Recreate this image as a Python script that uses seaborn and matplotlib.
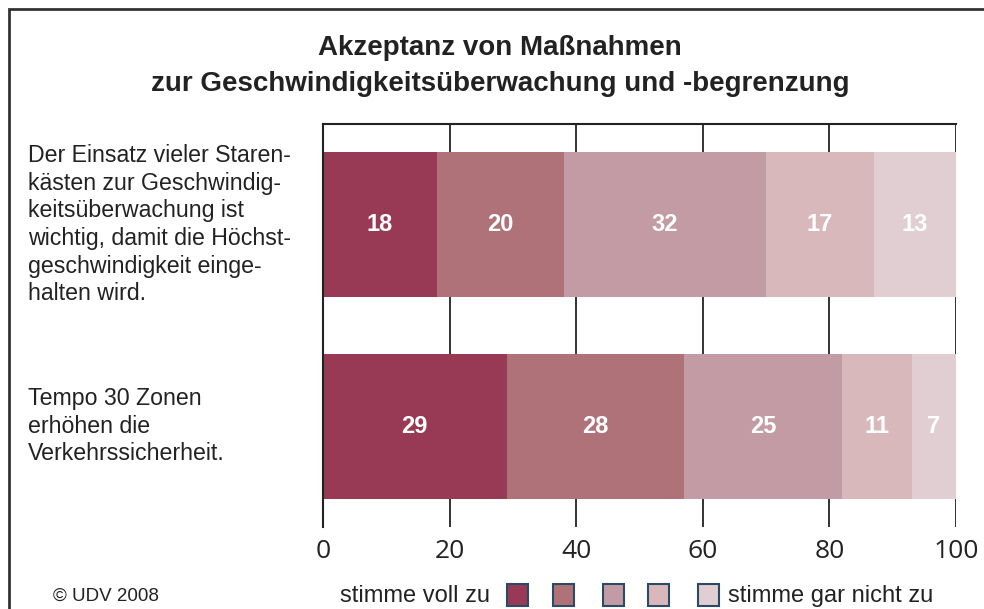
import pandas as pd
import seaborn as sns
import matplotlib.pyplot as plt
from matplotlib.patches import Rectangle
from matplotlib.transforms import blended_transform_factory

# data
fragen = [
    "Der Einsatz vieler Staren-\nkästen zur Geschwindig-\nkeitsüberwachung ist\nwichtig, damit die Höchst-\ngeschwindigkeit einge-\nhalten wird.",
    "Tempo 30 Zonen\nerhöhen die\nVerkehrssicherheit.",
]
stufe1 = [18, 29]
stufe2 = [20, 28]
stufe3 = [32, 25]
stufe4 = [17, 11]
stufe5 = [13, 7]
farben = ["#983a55", "#b07279", "#c39ba4", "#d9b8bc", "#e0ced3"]
ticks = [0, 20, 40, 60, 80, 100]

sns.set_style("white")
plt.rcParams['font.family'] = ['Liberation Sans', 'DejaVu Sans']

fig = plt.figure(figsize=(9.84, 6.09), dpi=100)
ax = fig.add_axes([323 / 984, 1 - 527 / 609, (956 - 323) / 984, (527 - 124) / 609])

stufen = [stufe1, stufe2, stufe3, stufe4, stufe5]
rows = []
for k, werte in enumerate(stufen):
    for i, v in enumerate(werte):
        rows.append({'frage': i, 'stufe': k, 'wert': v})
df = pd.DataFrame(rows)
df['kum'] = df.groupby('frage')['wert'].cumsum()
df['frage'] = df['frage'].astype(str)

# stacked bars: draw the cumulative totals from the largest down
for k in reversed(range(len(stufen))):
    sub = df[df['stufe'] == k]
    sns.barplot(data=sub, x='kum', y='frage', color=farben[k], orient='h',
                width=0.72, saturation=1, ax=ax, zorder=2, linewidth=0,
                edgecolor='none')

for _, r in df.iterrows():
    ax.text(r['kum'] - r['wert'] / 2, int(r['frage']), str(r['wert']),
            ha='center', va='center', color='white', fontsize=17,
            fontweight='bold', zorder=3)

ax.set_xlim(0, 100)
ax.set_ylim(1.5, -0.5)
ax.set_xticks(ticks)
ax.set_xticklabels([str(t) for t in ticks], family=['Open Sans', 'DejaVu Sans'], fontsize=19)
ax.set_yticks([])
ax.set_xlabel('')
ax.set_ylabel('')
ax.grid(axis='x', color='#222222', lw=1.3, zorder=0)
ax.set_axisbelow(True)
ax.tick_params(axis='x', length=0, pad=9, colors='#222222')
for s in ['right', 'bottom']:
    ax.spines[s].set_visible(False)
for s in ['top', 'left']:
    ax.spines[s].set_color('#222222')
    ax.spines[s].set_linewidth(1.5)

# question texts on the left
trans = blended_transform_factory(fig.transFigure, ax.transData)
for i, f in enumerate(fragen):
    ax.text(28 / 984, i, f, transform=trans, ha='left', va='center',
            fontsize=16.7, color='#222222', linespacing=1.25)

fig.text(0.508, 1 - 48 / 609, "Akzeptanz von Maßnahmen", ha='center', va='center',
         fontsize=20, fontweight='bold', color='#222222')
fig.text(0.508, 1 - 84 / 609, "zur Geschwindigkeitsüberwachung und -begrenzung", ha='center',
         va='center', fontsize=20, fontweight='bold', color='#222222')

# legend
ly = 1 - 596 / 609
fig.text(340 / 984, ly, "stimme voll zu", ha='left', va='center', fontsize=17, color='#222222')
fig.text(728 / 984, ly, "stimme gar nicht zu", ha='left', va='center', fontsize=17, color='#222222')
for x0, c in zip([507, 553, 603, 648, 698], farben):
    fig.add_artist(Rectangle((x0 / 984, 1 - 606 / 609), 21 / 984, 22 / 609, facecolor=c,
                             edgecolor='#2a4a66', lw=1.5, transform=fig.transFigure))
fig.text(53 / 984, ly, "© UDV 2008", ha='left', va='center', fontsize=13.5, color='#222222')

# frame around the figure
fig.add_artist(Rectangle((9 / 984, -0.05), 1.1, 1 - 9 / 609 + 0.05, fill=False,
                         edgecolor='#333333', lw=2, transform=fig.transFigure))

fig.savefig('out.png', dpi=100)
